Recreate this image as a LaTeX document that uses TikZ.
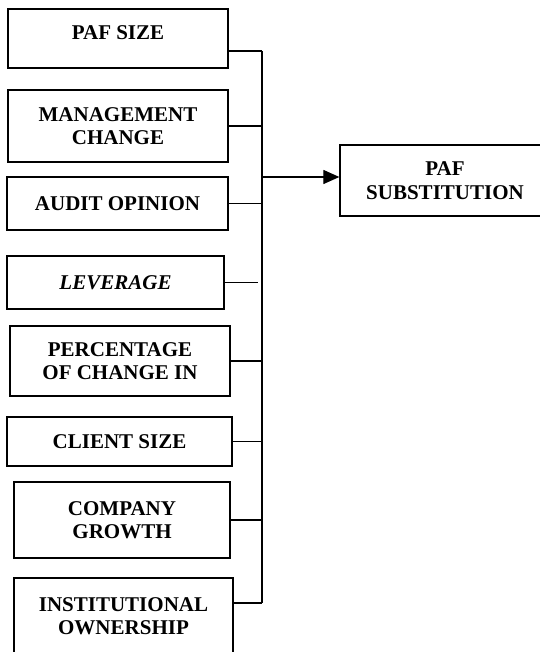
\documentclass[tikz,border=0pt]{standalone}
\usepackage{fontspec}
\setmainfont{Liberation Serif}
\usepackage{tikz}
\usetikzlibrary{arrows.meta,calc,positioning}

\begin{document}
\begin{tikzpicture}[x=1pt,y=-1pt,
  degisken/.style={draw,line width=1.3pt,align=center,inner sep=2pt,
    font=\bfseries\fontsize{21}{23.5}\selectfont},
  baglanti/.style={line width=1.2pt}]
\useasboundingbox (0,0) rectangle (539,652);
% bagimsiz degiskenler
\node[degisken,minimum width=220pt,minimum height=59pt,text depth=11pt] (pafsize) at (118,38.5) {PAF SIZE};
\node[degisken,minimum width=220pt,minimum height=72pt] (mgmt) at (118,126) {MANAGEMENT\\CHANGE};
\node[degisken,minimum width=221pt,minimum height=53pt] (audit) at (117.5,203.5) {AUDIT OPINION};
\node[degisken,minimum width=217pt,minimum height=53pt] (leverage) at (115.5,282.5) {\textit{LEVERAGE}};
\node[degisken,minimum width=220pt,minimum height=70pt] (percent) at (120,361) {PERCENTAGE\\OF CHANGE IN};
\node[degisken,minimum width=225pt,minimum height=49pt] (client) at (119.5,441.5) {CLIENT SIZE};
\node[degisken,minimum width=216pt,minimum height=76pt] (growth) at (122,520) {COMPANY\\GROWTH};
\node[degisken,minimum width=219pt,minimum height=76pt] (inst) at (123.5,616) {INSTITUTIONAL\\OWNERSHIP};
% bagimli degisken
\node[degisken,minimum width=210pt,minimum height=71pt] (subst) at (445,180.5) {PAF\\SUBSTITUTION};
% toplama hatti
\coordinate (busTop) at (262,51);
\coordinate (busBot) at (262,603);
\coordinate (busMid) at (262,177);
\draw[baglanti] (busTop) -- (busBot);
\draw[baglanti] (pafsize.east |- busTop) -- (busTop);
\draw[baglanti] (inst.east |- busBot) -- (busBot);
\foreach \n in {mgmt,audit,percent,client,growth}
  \draw[baglanti] (\n.east) -- (\n.east -| busTop);
\draw[baglanti,shorten >=4pt] (leverage.east) -- (leverage.east -| busTop);
\draw[baglanti,-{Triangle[length=16pt,width=14pt]}] (busMid) -- (busMid -| subst.west);
\end{tikzpicture}
\end{document}
